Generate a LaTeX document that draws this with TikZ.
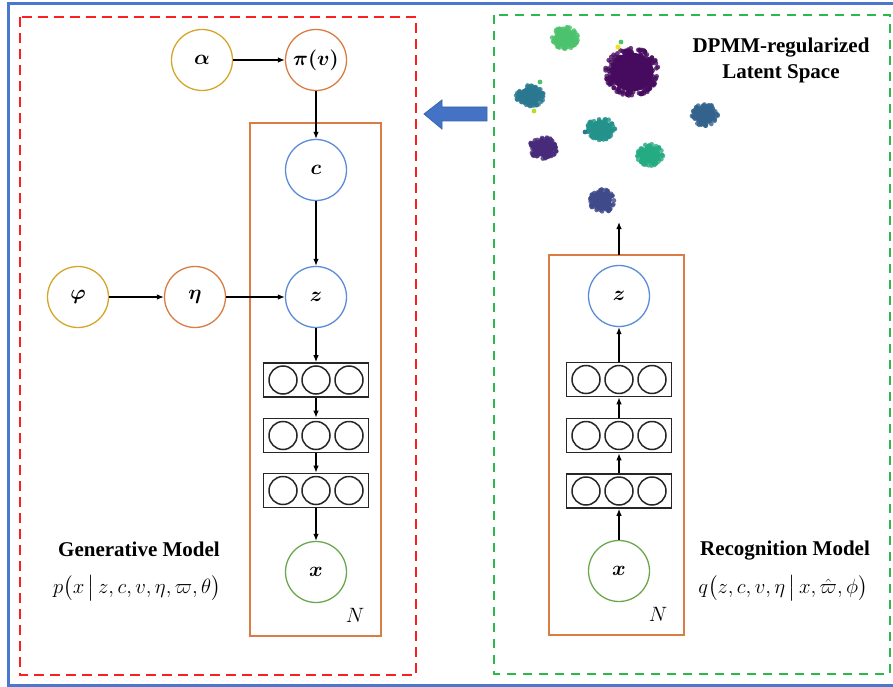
\documentclass[tikz,border=0pt]{standalone}
\usepackage{amsmath,bm}
\usepackage{fontspec}
\setmainfont{Liberation Serif}
\usetikzlibrary{arrows.meta}

\definecolor{frameblue}{HTML}{4A78CC}
\definecolor{arrowblue}{HTML}{4472C4}
\definecolor{arrowedge}{HTML}{3A63AE}
\definecolor{gold}{HTML}{D4A62A}
\definecolor{orng}{HTML}{D97D45}
\definecolor{latblue}{HTML}{5B8BD9}
\definecolor{obsgreen}{HTML}{6AA84F}
\definecolor{dashred}{HTML}{FF1E1E}
\definecolor{dashgreen}{HTML}{2DB84E}
% viridis-like cluster colours
\definecolor{vLgreen}{HTML}{4CC26C}
\definecolor{vPurple}{HTML}{460B5E}
\definecolor{vTealBlue}{HTML}{2A7890}
\definecolor{vBlue}{HTML}{33638D}
\definecolor{vTeal}{HTML}{22928A}
\definecolor{vViolet}{HTML}{472A7A}
\definecolor{vGreenTeal}{HTML}{25AB82}
\definecolor{vIndigo}{HTML}{3F4A8A}
\definecolor{vYellow}{HTML}{F2E21E}
\definecolor{vLime}{HTML}{B5DE2B}

% a dense cloud of points: centre x, centre y, radius x, radius y, count, colour
\newcommand\pointcloud[6]{%
  \fill[#6] (#1,#2) ellipse ({0.8*#3} and {0.8*#4});
  \foreach \k in {1,...,#5}{%
    \pgfmathsetmacro{\ang}{rnd*360}%
    \pgfmathsetmacro{\rad}{0.55+0.45*sqrt(rnd)}%
    \fill[#6,opacity=0.8] ({#1+#3*\rad*cos(\ang)},{#2+#4*\rad*sin(\ang)}) circle (2.4);
  }%
}

\begin{document}
\begin{tikzpicture}[x=1pt,y=-1pt,
  var/.style={circle,draw,line width=1.3pt,minimum size=61pt,inner sep=0pt,
    font=\fontsize{21}{21}\selectfont},
  hyper/.style={var,draw=gold},
  param/.style={var,draw=orng},
  latent/.style={var,draw=latblue},
  obs/.style={var,draw=obsgreen},
  plate/.style={draw=orng,line width=1.7pt,inner sep=0pt},
  layerbox/.style={draw=black!85,line width=1.6pt,minimum width=105pt,minimum height=34pt,inner sep=0pt},
  unit/.style={draw=black!85,line width=1.5pt},
  link/.style={line width=1.2pt,-{Latex[length=7pt,width=5.5pt]}},
  title/.style={font=\fontsize{21}{26}\selectfont\bfseries,align=center,inner sep=0pt},
  formula/.style={font=\fontsize{21}{21}\selectfont,inner sep=0pt},
  platelabel/.style={font=\fontsize{21}{21}\selectfont,inner sep=0pt}
]
\useasboundingbox (0,0) rectangle (893,687);

% outer frame
\draw[frameblue,line width=3pt] (900,4) -- (8,4) -- (8,685) -- (900,685);

% model panels
\draw[dashred,line width=2pt,dash pattern=on 10pt off 6pt] (20,17) rectangle (416,675);
\draw[dashgreen,line width=2pt,dash pattern=on 9pt off 7pt] (494,15) rectangle (890,674);

% ---------------- generative model ----------------
\node[plate,minimum width=131pt,minimum height=513pt] (gplate) at (315.5,379.5) {};
\node[platelabel] (gN) at (355,615) {$N$};

\node[hyper]  (alpha) at (202,60)  {$\bm{\alpha}$};
\node[param]  (pi)    at (316,60)  {$\bm{\pi(v)}$};
\node[latent] (gc)    at (316,170) {$\bm{c}$};
\node[hyper]  (phi)   at (78,297)  {$\bm{\varphi}$};
\node[param]  (eta)   at (195,297) {$\bm{\eta}$};
\node[latent] (gz)    at (316,297) {$\bm{z}$};
\node[layerbox] (g1) at (316,380) {};
\node[layerbox] (g2) at (316,435.5) {};
\node[layerbox] (g3) at (316,490.5) {};
\node[obs]    (gx)    at (316,572) {$\bm{x}$};

\foreach \b in {g1,g2,g3}{
  \foreach \dx in {-33,0,33}{
    \draw[unit] ([xshift=\dx pt]\b.center) circle (14);
  }
}

\draw[link] (alpha) -- (pi);
\draw[link] (pi) -- (gc);
\draw[link] (gc) -- (gz);
\draw[link] (phi) -- (eta);
\draw[link] (eta) -- (gz);
\draw[link] (gz) -- (g1);
\draw[link] (g1) -- (g2);
\draw[link] (g2) -- (g3);
\draw[link] (g3) -- (gx);

\node[title] (gtitle) at (139,549) {Generative Model};
\node[formula] (gform) at (137,588)
  {$p\bigl(x\,\big|\,z,c,v,\eta,\varpi,\theta\bigr)$};

% ---------------- recognition model ----------------
\node[plate,minimum width=135pt,minimum height=380pt] (rplate) at (616.5,445) {};
\node[platelabel] (rN) at (658,614) {$N$};

\node[latent] (rz) at (619,296) {$\bm{z}$};
\node[layerbox] (r1) at (619,379.5) {};
\node[layerbox] (r2) at (619,435.5) {};
\node[layerbox] (r3) at (619,491) {};
\node[obs]    (rx) at (619,571) {$\bm{x}$};

\foreach \b in {r1,r2,r3}{
  \foreach \dx in {-33,0,33}{
    \draw[unit] ([xshift=\dx pt]\b.center) circle (14);
  }
}

\draw[link] (rx) -- (r3);
\draw[link] (r3) -- (r2);
\draw[link] (r2) -- (r1);
\draw[link] (r1) -- (rz);
\coordinate (rtop) at (619,255);
\coordinate (rlat) at (619,222);
\draw[link] (rtop) -- (rlat);

\node[title] (rtitle) at (785,551) {Recognition Model};
\node[formula] (rform) at (783,588)
  {$q\bigl(z,c,v,\eta\,\big|\,x,\hat{\varpi},\phi\bigr)$};

% ---------------- latent space ----------------
\node[title] (ltitle) at (781,60) {DPMM-regularized\\Latent Space};

\pgfmathsetseed{7}
\pointcloud{565}{38}{13}{11}{60}{vLgreen}
\pointcloud{632}{72}{27}{24}{170}{vPurple}
\pointcloud{530}{96}{14}{11}{60}{vTealBlue}
\pointcloud{705}{115}{13}{11}{60}{vBlue}
\pointcloud{601}{129}{14}{11}{60}{vTeal}
\pointcloud{543}{148}{14}{11}{60}{vViolet}
\pointcloud{650}{155}{13}{11}{60}{vGreenTeal}
\pointcloud{602}{201}{12}{12}{60}{vIndigo}
\fill[vYellow] (618,47) circle (2.6);
\fill[vLgreen] (621,42) circle (2.4);
\fill[vLgreen] (540,82) circle (2.4);
\fill[vLime] (534,111) circle (2.4);
\fill[vTealBlue] (585,132) circle (2.4);

% flow from the recognition side to the generative side
\fill[arrowblue,draw=arrowedge,line width=0.8pt]
  (424,114) -- (442,100) -- (442,107) -- (487,107) -- (487,121)
  -- (442,121) -- (442,129) -- cycle;

\end{tikzpicture}
\end{document}
